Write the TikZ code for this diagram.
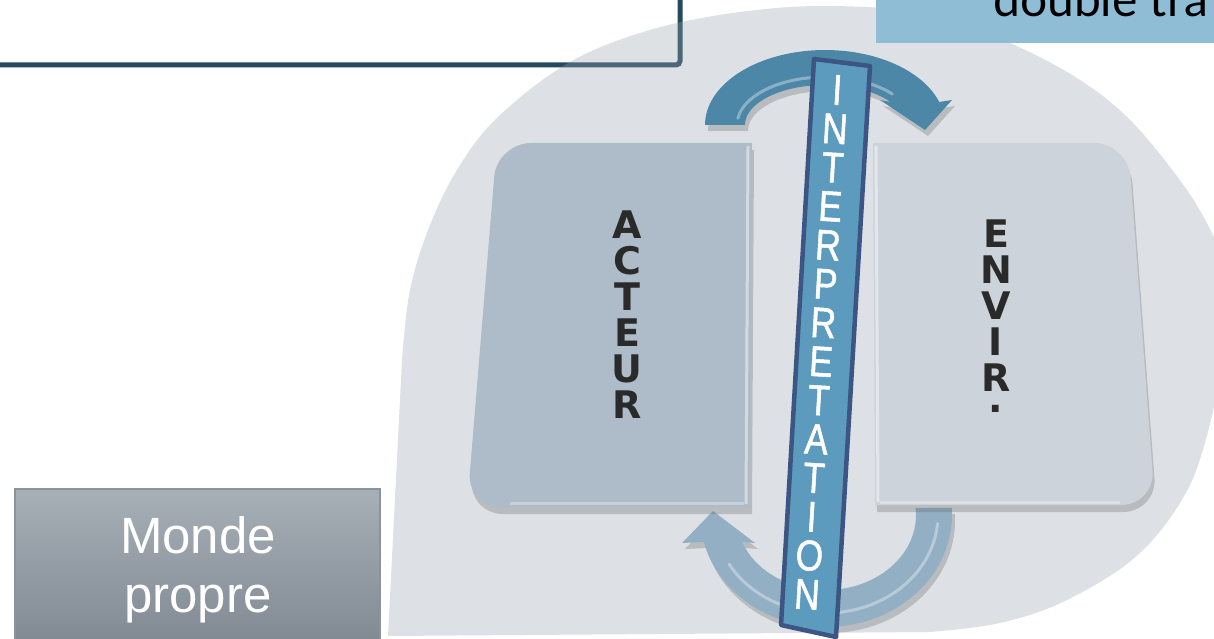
\documentclass[tikz,border=0pt]{standalone}
\usepackage{fontspec}
\setmainfont{Liberation Sans}
\newfontfamily\boldletters{DejaVu Sans}
\newfontfamily\stripfont[FakeStretch=0.82,FakeBold=1.2]{Liberation Sans}
\newfontfamily\titlefont{Lato}
\definecolor{navy}{RGB}{37,74,94}
\definecolor{blobc}{RGB}{151,163,175}
\definecolor{lightblue}{RGB}{143,189,214}
\definecolor{mondetop}{RGB}{167,175,183}
\definecolor{mondebot}{RGB}{125,134,143}
\definecolor{mondeline}{RGB}{139,148,156}
\definecolor{acteurc}{RGB}{173,188,200}
\definecolor{envirc}{RGB}{205,211,218}
\definecolor{arrowtop}{RGB}{76,135,168}
\definecolor{arrowbot}{RGB}{147,175,196}
\definecolor{stripfill}{RGB}{93,155,190}
\definecolor{stripline}{RGB}{60,85,130}
\definecolor{letterc}{RGB}{42,42,42}
\begin{document}
\begin{tikzpicture}[x=1pt,y=-1pt,
  topbox/.style={draw=navy,line width=5pt,fill=white,rounded corners=4pt},
  blob/.style={fill=blobc,fill opacity=0.326},
  bluebox/.style={fill=lightblue},
  titletext/.style={font=\titlefont\fontsize{48}{48}\selectfont,text=black,inner sep=0pt,anchor=base west},
  mondebox/.style={draw=mondeline,line width=1.5pt,top color=mondetop,bottom color=mondebot},
  mondetext/.style={font=\fontsize{51}{59}\selectfont,text=white,inner sep=0pt,anchor=base},
  panelshadow/.style={fill=black!60,fill opacity=0.3},
  acteurpanel/.style={fill=acteurc},
  envirpanel/.style={fill=envirc},
  paneltext/.style={font=\boldletters\bfseries\fontsize{38}{36}\selectfont,text=letterc,align=center,inner sep=0pt,anchor=north},
  arrowtopstyle/.style={fill=arrowtop},
  arrowbotstyle/.style={fill=arrowbot},
  highlight/.style={draw=white,draw opacity=0.35,line width=3pt,line cap=round},
  bevel/.style={draw=white,draw opacity=0.45,line width=3pt},
  stripstyle/.style={fill=stripfill,draw=stripline,line width=4.5pt,line join=round},
  stripletter/.style={font=\stripfont\fontsize{43}{43}\selectfont,text=white,inner sep=0pt,rotate=-3.4},
]
\useasboundingbox (0,0) rectangle (1214,639);
\clip (0,0) rectangle (1214,639);

% top-left box
\draw[topbox] (-20,-20) rectangle (680,65);

% grey blob
\fill[blob] (388,636) -- plot[smooth,tension=0.6] coordinates {(402,360) (410,290) (430,225) (460,165) (500,115) (570,62) (650,30) (740,12) (830,6) (930,14) (1010,43) (1080,80) (1133,123) (1187,190) (1214,237)}
  -- (1230,237) -- (1230,407)
  -- plot[smooth,tension=0.6] coordinates {(1214,407) (1190,485) (1140,553) (1067,600) (1000,623) (930,632)} -- cycle;

% blue title box
\fill[bluebox] (876,-5) rectangle (1220,43);
\node[titletext] (title) at (993,17) {double tra};

% Monde propre box
\draw[mondebox] (15,489) rectangle (380,660);
\node[mondetext] (monde1) at (198,553) {Monde};
\node[mondetext] (monde2) at (198,612) {propre};

% top curved arrow
\begin{scope}[shift={(3,6)}]
\fill[panelshadow] plot[domain=180:17.9,samples=60,variable=\t] ({825+120*cos(\t)},{125-75*sin(\t)}) -- (952,100) -- (925,130) -- (880,100) -- plot[domain=35.1:180,samples=60,variable=\t] ({825+80*cos(\t)},{125-40*sin(\t)}) -- cycle;
\end{scope}
\fill[arrowtopstyle] plot[domain=180:17.9,samples=60,variable=\t] ({825+120*cos(\t)},{125-75*sin(\t)}) -- (952,100) -- (925,130) -- (880,100) -- plot[domain=35.1:180,samples=60,variable=\t] ({825+80*cos(\t)},{125-40*sin(\t)}) -- cycle;
\draw[highlight] plot[domain=172:40,samples=50,variable=\t] ({825+88*cos(\t)},{125-48*sin(\t)});

% bottom curved arrow
\begin{scope}[shift={(3,6)}]
\fill[panelshadow] plot[domain=-3.6:166.05,samples=60,variable=\t] ({826+126*cos(\t)},{515+112*sin(\t)}) -- (682,543) -- (713,511) -- (755,543) -- plot[domain=158.9:-5.35,samples=60,variable=\t] ({826+90*cos(\t)},{515+75*sin(\t)}) -- cycle;
\end{scope}
\fill[arrowbotstyle] plot[domain=-3.6:166.05,samples=60,variable=\t] ({826+126*cos(\t)},{515+112*sin(\t)}) -- (682,543) -- (713,511) -- (755,543) -- plot[domain=158.9:-5.35,samples=60,variable=\t] ({826+90*cos(\t)},{515+75*sin(\t)}) -- cycle;
\draw[highlight] plot[domain=5:150,samples=50,variable=\t] ({826+112*cos(\t)},{515+98*sin(\t)});

% ACTEUR panel
\begin{scope}[shift={(2,7)}]
\fill[panelshadow] (752,143) -- (600,143) [rounded corners=34]-- (497,143) -- (467,507) -- (600,507) [sharp corners]-- (750,507) -- cycle;
\end{scope}
\fill[acteurpanel] (752,143) -- (600,143) [rounded corners=34]-- (497,143) -- (467,507) -- (600,507) [sharp corners]-- (750,507) -- cycle;
\draw[bevel] (748,146) -- (746,504);
\draw[bevel,draw opacity=0.3] (510,503) -- (744,503);

% ENVIR panel
\begin{scope}[shift={(2,7)}]
\fill[panelshadow] (873,143) -- (1000,143) [rounded corners=34]-- (1128,143) -- (1155,505) -- (1000,505) [sharp corners]-- (875,505) -- cycle;
\end{scope}
\fill[envirpanel] (873,143) -- (1000,143) [rounded corners=34]-- (1128,143) -- (1155,505) -- (1000,505) [sharp corners]-- (875,505) -- cycle;
\draw[bevel] (876,146) -- (878,502);
\draw[bevel,draw opacity=0.3] (880,502) -- (1120,502);

% panel labels
\node[paneltext] (acteur) at (627,211) {A\\C\\T\\E\\U\\R};
\node[paneltext] (envir) at (996,220) {E\\N\\V\\I\\R\\[-15pt].};

% INTERPRETATION strip
\draw[stripstyle] (814,59) -- (870,66) -- (836,637) -- (781,625) -- cycle;
\foreach \L [count=\i, evaluate=\i as \yy using 90+38.8*(\i-1)] in {I,N,T,E,R,P,R,E,T,A,T,I,O,N}
  \node[stripletter] (s\i) at ({839-0.05986*(\yy-62)},\yy) {\L};
\end{tikzpicture}
\end{document}
